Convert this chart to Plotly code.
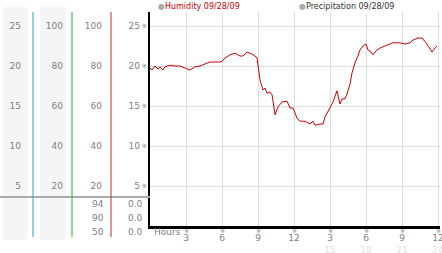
import plotly.graph_objects as go

# ---------------- data ----------------
hours = [0, 0.17, 0.42, 0.67, 0.83, 1.08, 1.25, 1.67, 2.08, 2.5, 2.92, 3.33, 3.75, 4.17,
         4.58, 5.0, 5.42, 5.83, 6.0, 6.25, 6.67, 7.08, 7.5, 7.75, 8.08, 8.5, 8.75, 8.92,
         9.17, 9.42, 9.58, 9.75, 10.0, 10.17, 10.42, 10.67, 11.0, 11.42, 11.67, 11.92,
         12.25, 12.5, 12.92, 13.33, 13.58, 13.75, 14.17, 14.42, 14.58, 15.0, 15.25, 15.58,
         15.83, 16.0, 16.25, 16.42, 16.67, 16.83, 17.08, 17.33, 17.5, 17.75, 18.0, 18.17,
         18.42, 18.58, 18.83, 19.17, 19.58, 20.0, 20.25, 20.83, 21.25, 21.67, 21.92, 22.33,
         22.67, 23.0, 23.33, 23.5, 23.75, 23.92]
humidity = [19.75, 19.5, 20.0, 19.6, 19.9, 19.5, 19.9, 20.1, 20.0, 20.0, 19.75, 19.5, 19.9, 20.0,
            20.25, 20.5, 20.5, 20.5, 20.6, 21.0, 21.4, 21.6, 21.25, 21.25, 21.75, 21.5, 21.25, 21.0,
            18.25, 17.0, 17.25, 16.6, 16.75, 16.4, 13.9, 14.9, 15.5, 15.6, 14.75, 14.75,
            13.5, 13.1, 13.1, 12.75, 13.1, 12.6, 12.75, 12.75, 13.6, 14.75, 15.5, 16.9,
            15.25, 15.9, 15.9, 16.5, 17.75, 19.1, 20.4, 21.25, 22.0, 22.5, 22.75, 22.0,
            21.75, 21.4, 21.9, 22.25, 22.5, 22.75, 22.9, 22.9, 22.75, 22.9, 23.25, 23.5,
            23.5, 22.9, 22.1, 21.75, 22.25, 22.5]

main_ticks = [5, 10, 15, 20, 25]
col1_ticks = [5, 10, 15, 20, 25]
col2_ticks = [20, 40, 60, 80, 100]
col3_ticks = [20, 40, 60, 80, 100]

x_tick_hours = [3, 6, 9, 12, 15, 18, 21, 24]
x_tick_text = ["3", "6", "9", "12", "3", "6", "9", "12"]
x_tick_sub = ["", "", "", "", "15", "18", "21", "24"]

lower_col3 = ["94", "90", "50"]
lower_col4 = ["0.0", "0.0", "0.0"]

legend_items = ["Humidity 09/28/09", "Precipitation 09/28/09"]

# ---------------- layout helpers ----------------
W, H = 442, 253
MT, MB = 12, 27
PH = H - MT - MB


def px_x(p):
    return p / W


def px_y(p):
    return (H - MB - p) / PH


FONT = "DejaVu Sans"
GRAY = "#808080"
YMAX = 26.75

fig = go.Figure()
fig.add_trace(go.Scatter(x=hours, y=humidity, mode="lines",
                         line=dict(color="#cc0000", width=1), showlegend=False,
                         hoverinfo="skip"))
# invisible helper traces so every free axis is drawn
for ya in ["y2", "y3", "y4", "y5"]:
    fig.add_trace(go.Scatter(x=[0], y=[0], yaxis=ya, mode="markers",
                             marker=dict(opacity=0), showlegend=False, hoverinfo="skip"))
fig.add_trace(go.Scatter(x=[0], y=[0], xaxis="x2", mode="markers",
                         marker=dict(opacity=0), showlegend=False, hoverinfo="skip"))

tf = dict(family=FONT, size=9, color=GRAY)

sub_text = [t if not s else f"{t}<br><span style='color:#e2e2e2'>{s}</span>"
            for t, s in zip(x_tick_text, x_tick_sub)]

fig.update_layout(
    width=W, height=H, margin=dict(l=0, r=0, t=MT, b=MB, autoexpand=False),
    paper_bgcolor="white", plot_bgcolor="white",
    xaxis=dict(domain=[150 / W, 440 / W], range=[0, 290 / 12], tickmode="array",
               tickvals=x_tick_hours, showticklabels=False, ticks="",
               showgrid=True, gridcolor="#dddddd", gridwidth=1, zeroline=False,
               showline=True, linecolor="black", linewidth=3, automargin=False),
    xaxis2=dict(overlaying="x", anchor="y", side="bottom", range=[0, 290 / 12],
                tickmode="array", tickvals=x_tick_hours, ticktext=sub_text,
                tickfont=tf, ticks="outside", ticklen=3, tickcolor="rgba(0,0,0,0)",
                showgrid=False, zeroline=False, showline=False,
                ticklabeloverflow="allow", automargin=False),
    yaxis=dict(range=[0, YMAX], tickmode="array", tickvals=main_ticks,
               ticktext=["※"] * len(main_ticks),
               tickfont=dict(family=FONT, size=6, color=GRAY), ticks="",
               showgrid=True, gridcolor="#dddddd", gridwidth=1, zeroline=False,
               showline=True, linecolor="black", linewidth=2, automargin=False),
    yaxis5=dict(overlaying="y", anchor="free", position=140 / W, side="left",
                range=[0, YMAX], tickmode="array", tickvals=main_ticks,
                tickfont=tf, ticks="", showgrid=False, zeroline=False, showline=False,
                automargin=False),
    yaxis2=dict(overlaying="y", anchor="free", position=102 / W, side="left",
                range=[0, YMAX * 4], tickmode="array", tickvals=col3_ticks,
                tickfont=tf, ticks="", showgrid=False, zeroline=False, showline=False,
                automargin=False),
    yaxis3=dict(overlaying="y", anchor="free", position=63 / W, side="left",
                range=[0, YMAX * 4], tickmode="array", tickvals=col2_ticks,
                tickfont=tf, ticks="", showgrid=False, zeroline=False, showline=False,
                automargin=False),
    yaxis4=dict(overlaying="y", anchor="free", position=21 / W, side="left",
                range=[0, YMAX], tickmode="array", tickvals=col1_ticks,
                tickfont=tf, ticks="", showgrid=False, zeroline=False, showline=False,
                automargin=False),
    showlegend=False,
)

shapes = []
# column backgrounds
for x0, x1 in [(3, 27), (40, 66)]:
    shapes.append(dict(type="rect", xref="paper", yref="paper", x0=px_x(x0), x1=px_x(x1),
                       y0=px_y(240), y1=px_y(7), fillcolor="#f5f5f5", line=dict(width=0),
                       layer="below"))
# separator line
shapes.append(dict(type="line", xref="paper", yref="paper", x0=0, x1=px_x(150),
                   y0=px_y(197), y1=px_y(197), line=dict(color="#aaaaaa", width=2)))
# coloured column dividers
for xp, c in [(33, "#3399cc"), (72, "#33aa33"), (111, "#bb3333")]:
    shapes.append(dict(type="line", xref="paper", yref="paper", x0=px_x(xp), x1=px_x(xp),
                       y0=px_y(237), y1=px_y(12), line=dict(color=c, width=1)))
fig.update_layout(shapes=shapes)

ann = []
# small tick glyphs under the x axis
for hx in x_tick_hours:
    ann.append(dict(xref="x", yref="paper", x=hx, y=px_y(230), text="※", showarrow=False,
                    xanchor="center", yanchor="middle", borderpad=0,
                    font=dict(family=FONT, size=6, color=GRAY)))
for i, (a, b) in enumerate(zip(lower_col3, lower_col4)):
    yy = px_y(204 + 14 * i)
    ann.append(dict(xref="paper", yref="paper", x=px_x(106), y=yy, text=a, showarrow=False,
                    xanchor="right", yanchor="middle", font=tf))
    ann.append(dict(xref="paper", yref="paper", x=px_x(145), y=yy, text=b, showarrow=False,
                    xanchor="right", yanchor="middle", font=tf))
ann.append(dict(xref="x", yref="paper", x=0, y=px_y(232), text="Hours", showarrow=False,
                xanchor="left", yanchor="middle", xshift=2, font=tf))
for xp, label, col in [(156, legend_items[0], "#cc0000"), (297, legend_items[1], "#333333")]:
    ann.append(dict(xref="paper", yref="paper", x=px_x(xp), y=px_y(6),
                    text=f"<span style='color:#aaaaaa'>●</span>{label}", showarrow=False,
                    xanchor="left", yanchor="middle",
                    font=dict(family=FONT, size=8, color=col)))
fig.update_layout(annotations=ann)

fig.write_html("out.html")
